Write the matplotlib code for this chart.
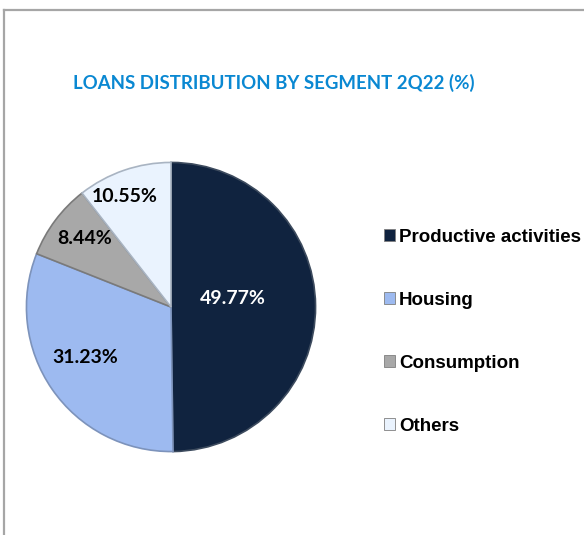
import matplotlib
matplotlib.use("Agg")
import matplotlib.pyplot as plt
from matplotlib.lines import Line2D
from matplotlib.patches import Patch
import numpy as np

# Loan portfolio by segment, 2Q22
segments = ["Productive activities", "Housing", "Consumption", "Others"]
shares = [49.77, 31.23, 8.44, 10.55]
colors = ["#10233f", "#9dbaf0", "#a8a8a8", "#eaf3fe"]
edge_colors = ["#3d4b5e", "#7d93bb", "#7a7a7a", "#a9b4c2"]
label_colors = ["white", "black", "black", "black"]
# label placement inside each wedge: radial fraction and angular nudge (deg)
label_radius = [0.43, 0.69, 0.76, 0.83]
label_turn = [7.9, -4.2, -1.6, 3.5]

W, H = 584, 535
fig = plt.figure(figsize=(W / 100, H / 100), dpi=100)
fig.patch.set_facecolor("white")

# frame around the chart area
fig.add_artist(Line2D([4 / W, 4 / W], [0, 1 - 10 / H], color="#a6a6a6", lw=1.6))
fig.add_artist(Line2D([4 / W, 1], [1 - 10 / H, 1 - 10 / H], color="#a6a6a6", lw=1.6))

fig.text(274 / W, 1 - 83 / H, "LOANS DISTRIBUTION BY SEGMENT 2Q22 (%)",
         ha="center", va="center", color="#0a88d2", fontsize=13.4,
         family="Lato", fontweight="bold")

cx, cy, r = 171, 307, 146
ax = fig.add_axes([(cx - r) / W, (H - cy - r) / H, 2 * r / W, 2 * r / H])
wedges, _ = ax.pie(shares, colors=colors, startangle=90, counterclock=False,
                   wedgeprops=dict(linewidth=1.2))
for w, ec in zip(wedges, edge_colors):
    w.set_edgecolor(ec)
ax.set_xlim(-1.01, 1.01)
ax.set_ylim(-1.01, 1.01)
ax.set_aspect("equal")
ax.axis("off")

for w, val, col, rad, turn in zip(wedges, shares, label_colors, label_radius, label_turn):
    mid = np.deg2rad((w.theta1 + w.theta2) / 2 + turn)
    ax.text(rad * np.cos(mid), rad * np.sin(mid), f"{val:.2f}%",
            ha="center", va="center", color=col, fontsize=14,
            family="Lato", fontweight="bold")

handles = [Patch(facecolor=c, edgecolor="#7f7f7f", linewidth=0.6) for c in colors]
fig.legend(handles, segments, loc="upper left",
           bbox_to_anchor=(384 / W, 1 - 229 / H), frameon=False,
           prop=dict(family="Liberation Sans", weight="bold", size=13.5),
           handlelength=0.6, handleheight=0.6, handletextpad=0.2,
           labelspacing=2.45, borderaxespad=0, borderpad=0)

fig.savefig("out.png", dpi=100, facecolor="white")
